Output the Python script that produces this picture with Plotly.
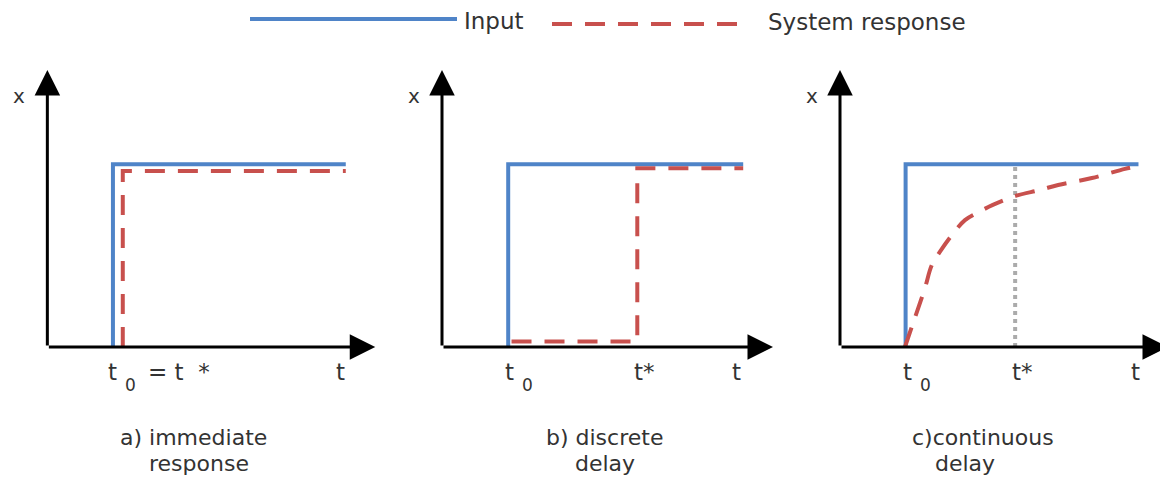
import plotly.graph_objects as go
from plotly.subplots import make_subplots

# step input, same in every panel
t_input = [2.0, 2.0, 9.1]
x_input = [0.0, 0.66, 0.66]

# a) immediate response
t_resp_a = [2.3, 2.3, 9.1]
x_resp_a = [0.0, 0.635, 0.635]

# b) discrete delay
t_resp_b = [2.1, 5.9, 5.9, 9.1]
x_resp_b = [0.02, 0.02, 0.645, 0.645]

# c) continuous delay
t_resp_c = [1.98, 2.23, 2.59, 2.8, 3.08, 3.45, 3.81, 4.18, 4.66, 5.34, 6.1, 6.65, 7.68, 8.69, 9.05]
x_resp_c = [0.0, 0.087, 0.213, 0.296, 0.35, 0.41, 0.458, 0.484, 0.513, 0.545, 0.567, 0.585, 0.61, 0.643, 0.652]
t_star_c = 5.34

# labels under the t axis: position, main text, subscript, tail
tick_labels = [
    [(1.93, "t", "0", "= t  *"), (8.9, "t", "", "")],
    [(2.0, "t", "0", ""), (5.9, "t*", "", ""), (8.85, "t", "", "")],
    [(2.0, "t", "0", ""), (5.34, "t*", "", ""), (8.95, "t", "", "")],
]
captions = [["a) immediate", "response"],
            ["b) discrete", "delay"],
            ["c)continuous", "delay"]]
caption_x = [[4.46, 4.61], [4.92, 4.92], [4.36, 3.81]]

BLUE = "#4F84C8"
RED = "#C8504D"
GREY = "#ABABAB"
TXT = "#333333"
FONT = "DejaVu Sans"

# page has an 8px body margin, so the figure is drawn 8px in and 8px smaller
OFF = 8
W, H = 1160, 470


def px(x):
    return (x - OFF) / W


def py(y):
    return 1 - (y - OFF) / H


fig = make_subplots(rows=1, cols=3)

responses = [(t_resp_a, x_resp_a, "linear"),
             (t_resp_b, x_resp_b, "linear"),
             (t_resp_c, x_resp_c, "spline")]

for i, (tr, xr, shape) in enumerate(responses):
    col = i + 1
    if i == 2:
        fig.add_trace(go.Scatter(x=[t_star_c, t_star_c], y=[0, x_input[-1]], mode="lines",
                                 line=dict(color=GREY, width=4, dash="4px,4px"),
                                 showlegend=False), row=1, col=col)
    fig.add_trace(go.Scatter(x=t_input, y=x_input, mode="lines",
                             line=dict(color=BLUE, width=4), name="Input",
                             showlegend=False), row=1, col=col)
    fig.add_trace(go.Scatter(x=tr, y=xr, mode="lines",
                             line=dict(color=RED, width=4, dash="20px,13px", shape=shape),
                             name="System response", showlegend=False), row=1, col=col)

# panel geometry in reference pixels: origin x, axis tip x, x range
geo = [(43, 375, [-1.2, 10.7]), (442, 773, [-1.2, 10.7]), (840, 1168, [-1.2, 10.0])]
y_rng = [-0.35, 1.08]
y_dom = [py(443.95), py(47.84)]

annotations = []
for i, (ox, tip, rng) in enumerate(geo):
    unit = (tip - ox) / 10.0
    left = ox + rng[0] * unit
    right = ox + rng[1] * unit
    xa = "xaxis" if i == 0 else "xaxis%d" % (i + 1)
    ya = "yaxis" if i == 0 else "yaxis%d" % (i + 1)
    fig.layout[xa].update(domain=[max(px(left), 0), min(px(right), 1)], range=rng,
                          visible=False, fixedrange=True)
    fig.layout[ya].update(domain=y_dom, range=y_rng, visible=False, fixedrange=True)
    xr = "x" if i == 0 else "x%d" % (i + 1)
    yr = "y" if i == 0 else "y%d" % (i + 1)
    # arrowed axes
    for tx, ty in [(10, 0), (0, 1.0)]:
        annotations.append(dict(x=tx, y=ty, xref=xr, yref=yr, ax=0, ay=0, axref=xr, ayref=yr,
                                text="", showarrow=True, arrowhead=2, arrowsize=1.7,
                                arrowwidth=3, arrowcolor="black", standoff=0))
    annotations.append(dict(x=-0.85, y=0.905, xref=xr, yref=yr, text="x", showarrow=False,
                            yanchor="middle", font=dict(family=FONT, size=20, color=TXT)))
    for p, main, sub, tail in tick_labels[i]:
        annotations.append(dict(x=p, y=-0.09, xref=xr, yref=yr, text=main, showarrow=False,
                                xanchor="left", yanchor="middle", xshift=-5,
                                font=dict(family=FONT, size=23, color=TXT)))
        if sub:
            annotations.append(dict(x=p, y=-0.09, xref=xr, yref=yr, text=sub, showarrow=False,
                                    xanchor="left", yanchor="middle", xshift=12, yshift=-13,
                                    font=dict(family=FONT, size=17, color=TXT)))
        if tail:
            annotations.append(dict(x=p, y=-0.09, xref=xr, yref=yr, text=tail, showarrow=False,
                                    xanchor="left", yanchor="middle", xshift=35,
                                    font=dict(family=FONT, size=23, color=TXT)))
    for k, line in enumerate(captions[i]):
        annotations.append(dict(x=caption_x[i][k], y=py([437, 463][k]), xref=xr, yref="paper",
                                text=line, showarrow=False, yanchor="middle",
                                font=dict(family=FONT, size=22, color=TXT)))

# legend drawn by hand to get the long line samples
shapes = [dict(type="line", xref="paper", yref="paper", x0=px(250), x1=px(457),
               y0=py(19), y1=py(19), line=dict(color=BLUE, width=4)),
          dict(type="line", xref="paper", yref="paper", x0=px(552), x1=px(750),
               y0=py(24), y1=py(24), line=dict(color=RED, width=4, dash="20px,13px"))]
annotations.append(dict(x=px(462), y=py(21), xref="paper", yref="paper", text="Input",
                        showarrow=False, xanchor="left", yanchor="middle",
                        font=dict(family=FONT, size=23, color=TXT)))
annotations.append(dict(x=px(766), y=py(22), xref="paper", yref="paper",
                        text="System response", showarrow=False, xanchor="left",
                        yanchor="middle", font=dict(family=FONT, size=23, color=TXT)))

fig.update_layout(width=W, height=H, margin=dict(l=0, r=0, t=0, b=0),
                  plot_bgcolor="white", paper_bgcolor="white",
                  showlegend=False, annotations=annotations, shapes=shapes)

fig.write_html("out.html")
